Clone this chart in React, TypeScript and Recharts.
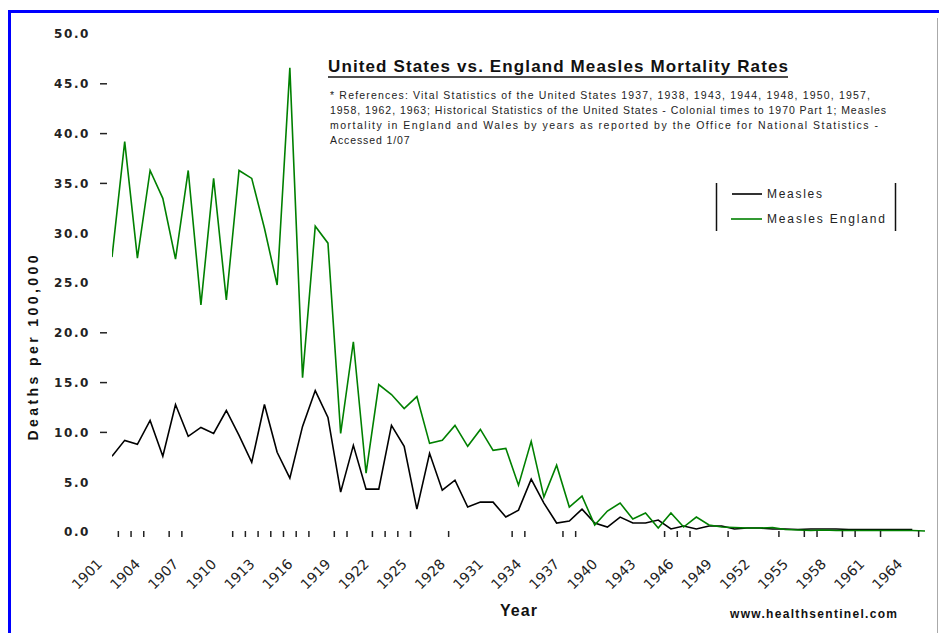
import React from 'react';
import { ComposedChart, Line, Scatter, XAxis, YAxis } from 'recharts';

const YEARS = [
  1901, 1902, 1903, 1904, 1905, 1906, 1907, 1908, 1909, 1910,
  1911, 1912, 1913, 1914, 1915, 1916, 1917, 1918, 1919, 1920,
  1921, 1922, 1923, 1924, 1925, 1926, 1927, 1928, 1929, 1930,
  1931, 1932, 1933, 1934, 1935, 1936, 1937, 1938, 1939, 1940,
  1941, 1942, 1943, 1944, 1945, 1946, 1947, 1948, 1949, 1950,
  1951, 1952, 1953, 1954, 1955, 1956, 1957, 1958, 1959, 1960,
  1961, 1962, 1963, 1964, 1965,
];

// United States measles deaths per 100,000
const MEASLES_US: (number | null)[] = [
  7.6, 9.2, 8.8, 11.2, 7.6, 12.8, 9.6, 10.5, 9.9, 12.2,
  9.7, 7.0, 12.8, 8.0, 5.4, 10.6, 14.2, 11.5, 4.0, 8.7,
  4.3, 4.3, 10.7, 8.6, 2.3, 7.9, 4.2, 5.2, 2.5, 3.0,
  3.0, 1.5, 2.2, 5.3, 2.9, 0.9, 1.1, 2.3, 0.9, 0.5,
  1.5, 0.9, 0.9, 1.2, 0.3, 0.6, 0.3, 0.6, 0.6, 0.3,
  0.4, 0.4, 0.3, 0.3, 0.25, 0.3, 0.3, 0.3, 0.25, 0.25,
  0.25, 0.25, 0.25, 0.25, null,
];

// England measles deaths per 100,000
const MEASLES_ENGLAND: number[] = [
  27.6, 39.2, 27.5, 36.3, 33.5, 27.4, 36.3, 22.8, 35.5, 23.3,
  36.3, 35.5, 30.5, 24.8, 46.6, 15.5, 30.7, 29.0, 9.9, 19.1,
  5.9, 14.8, 13.8, 12.4, 13.6, 8.9, 9.2, 10.7, 8.6, 10.3,
  8.2, 8.4, 4.7, 9.1, 3.5, 6.7, 2.5, 3.6, 0.7, 2.1,
  2.9, 1.3, 1.9, 0.4, 1.9, 0.5, 1.5, 0.7, 0.5, 0.45,
  0.4, 0.4, 0.45, 0.25, 0.2, 0.15, 0.2, 0.15, 0.15, 0.15,
  0.15, 0.15, 0.15, 0.15, 0.1,
];

const X_TICKS = [1901, 1904, 1907, 1910, 1913, 1916, 1919, 1922, 1925, 1928, 1931, 1934, 1937, 1940, 1943, 1946, 1949, 1952, 1955, 1958, 1961, 1964];
const Y_TICKS = [0, 5, 10, 15, 20, 25, 30, 35, 40, 45, 50];
const Y_TICKS_WITH_DASH = [10, 15, 20, 35, 40, 45];

// small category tick marks visible along the baseline (between categories)
const BASE_MARKS = [
  1901.5, 1902.5, 1903.5, 1905.5, 1906.5, 1910.5, 1911.5, 1912.5, 1913.5, 1914.5,
  1915.5, 1916.5, 1918.5, 1919.5, 1921.5, 1922.5, 1923.5, 1924.5, 1927.5, 1932.5,
  1933.5, 1936.5, 1937.5, 1944.5, 1945.5, 1946.5, 1949.5, 1953.5, 1955.5, 1956.5,
  1958.5, 1959.5, 1961.5, 1964.5,
];

const TITLE = 'United States vs. England Measles Mortality Rates';
const NOTE_LINES = [
  '* References: Vital Statistics of the United States 1937, 1938, 1943, 1944, 1948, 1950, 1957,',
  '1958, 1962, 1963; Historical Statistics of the United States - Colonial times to 1970 Part 1; Measles',
  'mortality in England and Wales by years as reported by the Office for National Statistics -',
  'Accessed 1/07',
];
const NOTE_WIDTHS = [540, 556, 548, null];
const SERIES_NAMES = ['Measles', 'Measles England'];

const data = YEARS.map((year, i) => ({
  year,
  us: MEASLES_US[i],
  england: MEASLES_ENGLAND[i],
}));
const markData = BASE_MARKS.map((year) => ({ year, v: 0 }));

const FONT = '"DejaVu Sans", "Liberation Sans", Arial, sans-serif';
const FONT2 = '"Liberation Sans", Arial, sans-serif';

const YTick = (props: any) => {
  const { x, y, payload } = props;
  const v = payload.value as number;
  return (
    <g>
      <text x={x - 22} y={y} dy="0.36em" textAnchor="end" fontFamily={FONT} fontWeight="bold" fontSize={12} fill="#222" letterSpacing={1.6}>
        {v.toFixed(1)}
      </text>
      {Y_TICKS_WITH_DASH.includes(v) && (
        <line x1={x - 12} x2={x - 5} y1={y} y2={y} stroke="#222" strokeWidth={1.5} />
      )}
    </g>
  );
};

const XTick = (props: any) => {
  const { x, y, payload } = props;
  const ax = Number(x) - 9;
  const ay = Number(y) + 33;
  return (
    <g transform={`translate(${ax} ${ay}) rotate(-45)`}>
      <text x={0} y={0} textAnchor="end" fontFamily={FONT} fontSize={14} fill="#222">
        {String(payload.value)}
      </text>
    </g>
  );
};

const MarkShape = (props: any) => {
  const { cx, cy } = props;
  return <line x1={cx} x2={cx} y1={cy - 1} y2={cy + 5} stroke="#222" strokeWidth={1.5} />;
};

export default function App() {
  return (
    <div style={{ position: 'absolute', left: 0, top: 0, width: 939, height: 633, background: '#fff', overflow: 'hidden' }}>
      <ComposedChart
        width={939}
        height={633}
        data={data}
        margin={{ top: 34, right: 14, bottom: 0, left: 0 }}
      >
        <XAxis
          type="number"
          dataKey="year"
          domain={[1901, 1965]}
          ticks={X_TICKS}
          interval={0}
          axisLine={false}
          tickLine={false}
          tickSize={0}
          tickMargin={0}
          height={101}
          tick={(p: any) => <XTick {...p} />}
          allowDataOverflow
        />
        <YAxis
          type="number"
          domain={[0, 50]}
          ticks={Y_TICKS}
          interval={0}
          axisLine={false}
          tickLine={false}
          tickSize={0}
          tickMargin={0}
          width={112}
          tick={(p: any) => <YTick {...p} />}
        />
        <Scatter data={markData} dataKey="v" shape={<MarkShape />} isAnimationActive={false} legendType="none" />
        <Line type="linear" dataKey="us" name={SERIES_NAMES[0]} stroke="#000000" strokeWidth={1.6} dot={false} isAnimationActive={false} connectNulls={false} />
        <Line type="linear" dataKey="england" name={SERIES_NAMES[1]} stroke="#008000" strokeWidth={1.6} dot={false} isAnimationActive={false} />
      </ComposedChart>

      <svg width={939} height={633} style={{ position: 'absolute', left: 0, top: 0, pointerEvents: 'none' }}>
        {/* frame */}
        <rect x={8} y={10} width={3} height={623} fill="#0000ff" />
        <rect x={8} y={10} width={931} height={3} fill="#0000ff" />
        <line x1={937.5} x2={937.5} y1={18} y2={633} stroke="#aaaaaa" strokeWidth={1} />

        {/* title */}
        <text x={328} y={72} fontFamily={FONT2} fontWeight="bold" fontSize={17} fill="#111" textLength={460} lengthAdjust="spacing">
          {TITLE}
        </text>
        <line x1={328} x2={788} y1={77} y2={77} stroke="#111" strokeWidth={1.5} />
        {NOTE_LINES.map((t, i) => (
          <text key={i} x={330} y={99 + i * 15} fontFamily={FONT2} fontSize={10.5} fill="#222"
            textLength={NOTE_WIDTHS[i] ?? undefined} lengthAdjust="spacing" letterSpacing={NOTE_WIDTHS[i] ? undefined : 0.9}>
            {t}
          </text>
        ))}

        {/* legend */}
        <line x1={716.5} x2={716.5} y1={183} y2={231} stroke="#111" strokeWidth={1.5} />
        <line x1={895.5} x2={895.5} y1={183} y2={231} stroke="#111" strokeWidth={1.5} />
        <line x1={732} x2={762} y1={194} y2={194} stroke="#000" strokeWidth={1.6} />
        <line x1={731} x2={762} y1={219} y2={219} stroke="#008000" strokeWidth={1.6} />
        <text x={767} y={194} dy="0.36em" fontFamily={FONT2} fontSize={12} fill="#222" textLength={55} lengthAdjust="spacing">{SERIES_NAMES[0]}</text>
        <text x={767} y={219} dy="0.36em" fontFamily={FONT2} fontSize={12} fill="#222" textLength={118} lengthAdjust="spacing">{SERIES_NAMES[1]}</text>

        {/* axis titles */}
        <text x={33} y={348} transform="rotate(-90 33 348)" textAnchor="middle" dy="0.36em" fontFamily={FONT2} fontWeight="bold" fontSize={14} fill="#111" textLength={185} lengthAdjust="spacing">
          Deaths per 100,000
        </text>
        <text x={500} y={616} fontFamily={FONT2} fontWeight="bold" fontSize={16} fill="#111" textLength={37} lengthAdjust="spacing">
          Year
        </text>
        <text x={730} y={618} fontFamily={FONT2} fontWeight="bold" fontSize={12} fill="#111" textLength={167} lengthAdjust="spacing">
          www.healthsentinel.com
        </text>
      </svg>
    </div>
  );
}
